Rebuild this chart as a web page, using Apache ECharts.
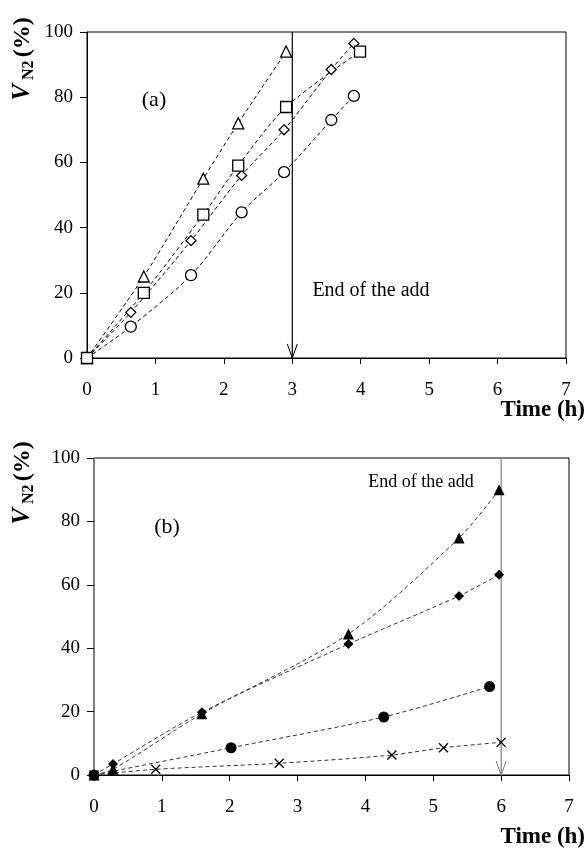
<!DOCTYPE html>
<html>
<head>
<meta charset="utf-8">
<script src="https://cdn.jsdelivr.net/npm/echarts@6/dist/echarts.min.js"></script>
<style>
  html, body { margin: 0; padding: 0; background: #fff; }
  #chart { width: 586px; height: 849px; }
</style>
</head>
<body>
<div id="chart"></div>
<script>
// panel (a): open markers, time in h, V N2 in %
const aCircle   = [[0, 0], [0.64, 9.6], [1.52, 25.4], [2.26, 44.7], [2.88, 57], [3.57, 73], [3.9, 80.4]];
const aDiamond  = [[0, 0], [0.64, 14], [1.52, 36], [2.26, 56], [2.88, 70], [3.57, 88.5], [3.9, 96.5]];
const aTriangle = [[0, 0], [0.83, 25], [1.7, 55], [2.21, 72], [2.91, 94]];
const aSquare   = [[0, 0], [0.83, 20], [1.7, 44], [2.21, 59], [2.91, 77], [3.99, 94]];
const aArrow    = [[3, 100], [3, 0]];

// panel (b): filled markers
const bCross    = [[0, 0], [0.91, 1.8], [2.73, 3.7], [4.39, 6.3], [5.15, 8.6], [6.0, 10.3]];
const bCircle   = [[0, 0], [2.02, 8.6], [4.27, 18.3], [5.83, 27.9]];
const bDiamond  = [[0, 0], [0.28, 3.5], [1.59, 19.8], [3.75, 41.3], [5.38, 56.5], [5.97, 63.2]];
const bTriangle = [[0, 0], [0.28, 1.8], [1.59, 19.3], [3.75, 44.5], [5.38, 74.8], [5.97, 90]];
const bArrow    = [[6, 100], [6, 0]];

const xTicks = [0, 7, 1];   // min, max, interval
const yTicks = [0, 100, 20];

const FONT = 'Liberation Serif';
const CROSS = 'path://M0,0L10,10M10,0L0,10';
const VHEAD = 'path://M0,0L6,12L12,0';

const chart = echarts.init(document.getElementById('chart'));

function xAxisFor(gridIndex) {
  return {
    type: 'value', gridIndex, min: xTicks[0], max: xTicks[1], interval: xTicks[2],
    axisLine: { lineStyle: { color: '#000', width: 1 } },
    axisTick: { inside: false, length: 6, lineStyle: { color: '#000' } },
    axisLabel: { color: '#000', fontFamily: FONT, fontSize: 19, margin: 23 },
    splitLine: { show: false }
  };
}
function yAxisFor(gridIndex, lineColor) {
  return {
    type: 'value', gridIndex, min: yTicks[0], max: yTicks[1], interval: yTicks[2],
    axisLine: { show: true, lineStyle: { color: lineColor, width: 1 } },
    axisTick: { show: true, inside: false, length: 7, lineStyle: { color: '#000' } },
    axisLabel: { color: '#000', fontFamily: FONT, fontSize: 19, margin: 14 },
    splitLine: { show: false }
  };
}

// one dashed smoothed series
function curve(data, idx, symbol, size, filled, dashColor) {
  return {
    type: 'line', xAxisIndex: idx, yAxisIndex: idx, data,
    smooth: 0.3, symbol, symbolSize: size, showAllSymbol: true,
    lineStyle: { color: dashColor, width: 1, type: [4, 3] },
    itemStyle: {
      color: filled ? '#000' : '#fff',
      borderColor: '#000', borderWidth: filled ? 0 : 1.3
    },
    z: 3
  };
}
function crossCurve(data, idx) {
  const s = curve(data, idx, CROSS, 9, false, '#333');
  s.itemStyle = { color: 'none', borderColor: '#000', borderWidth: 1.3 };
  return s;
}
function arrow(data, idx, color) {
  return {
    type: 'line', xAxisIndex: idx, yAxisIndex: idx,
    data: data.map((p, i) => i === data.length - 1
      ? { value: p, symbol: VHEAD, symbolSize: [10, 14], symbolOffset: [0, '-50%'] }
      : { value: p, symbol: 'none' }),
    lineStyle: { color, width: 1.2 },
    itemStyle: { color: 'none', borderColor: color, borderWidth: 1.2 },
    z: 2
  };
}

function yName(x, y) {
  return {
    type: 'text', x, y, rotation: Math.PI / 2,
    style: {
      text: '{v|V}{s| N2} {p|(%)}',
      align: 'center', verticalAlign: 'middle', fill: '#000',
      rich: {
        v: { fontFamily: FONT, fontSize: 25, fontStyle: 'italic', fontWeight: 'bold', lineHeight: 28 },
        s: { fontFamily: FONT, fontSize: 16, fontWeight: 'bold', verticalAlign: 'bottom', lineHeight: 20 },
        p: { fontFamily: FONT, fontSize: 24, fontWeight: 'bold', lineHeight: 28 }
      }
    }
  };
}
function label(x, y, text, size, bold, align) {
  return {
    type: 'text', x, y,
    style: {
      text, fill: '#000', align: align || 'center', verticalAlign: 'middle',
      font: (bold ? 'bold ' : '') + size + 'px "' + FONT + '"'
    }
  };
}

chart.setOption({
  animation: false,
  backgroundColor: '#fff',
  grid: [
    { left: 87, top: 32, width: 479, height: 326, show: true, borderColor: '#000', borderWidth: 1 },
    { left: 94, top: 458, width: 475, height: 317, show: true, borderColor: '#000', borderWidth: 1 }
  ],
  xAxis: [xAxisFor(0), xAxisFor(1)],
  yAxis: [yAxisFor(0, '#000'), yAxisFor(1, '#808080')],
  series: [
    arrow(aArrow, 0, '#000'),
    curve(aCircle, 0, 'circle', 11, false, '#000'),
    curve(aDiamond, 0, 'diamond', 10, false, '#000'),
    curve(aTriangle, 0, 'triangle', 11, false, '#000'),
    curve(aSquare, 0, 'rect', 11, false, '#000'),
    arrow(bArrow, 1, '#808080'),
    crossCurve(bCross, 1),
    curve(bCircle, 1, 'circle', 11, true, '#333'),
    curve(bDiamond, 1, 'diamond', 10, true, '#333'),
    curve(bTriangle, 1, 'triangle', 11, true, '#333')
  ],
  graphic: [
    yName(23, 59),
    yName(23, 483),
    label(154, 100, '(a)', 22, false),
    label(167, 527, '(b)', 22, false),
    label(371, 291, 'End of the add', 20, false),
    label(421, 482, 'End of the add', 18, false),
    label(585, 410, 'Time (h)', 23, true, 'right'),
    label(585, 837, 'Time (h)', 23, true, 'right')
  ]
});
</script>
</body>
</html>
